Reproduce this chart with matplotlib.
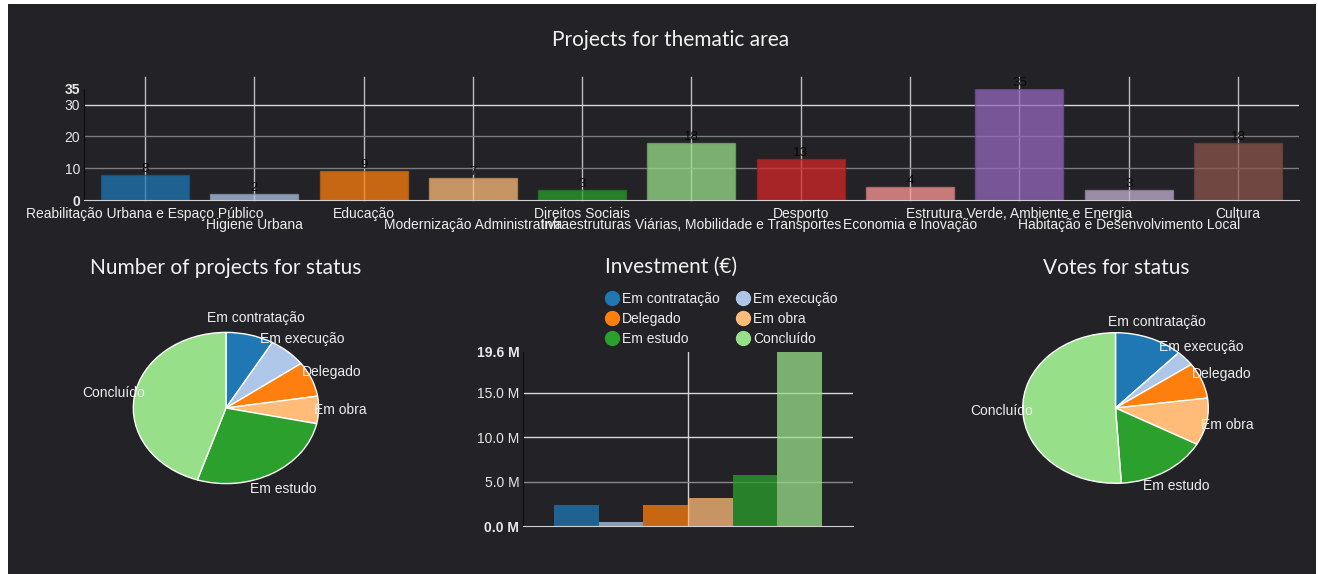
import matplotlib
matplotlib.use('Agg')
import matplotlib.pyplot as plt
from matplotlib.patches import Rectangle
from matplotlib.lines import Line2D
from matplotlib.colors import to_rgb

W, H = 1318, 574
BG = '#222227'

# --- data ---
thematic_areas = ['Reabilitação Urbana e Espaço Público', 'Higiene Urbana', 'Educação',
                  'Modernização Administrativa', 'Direitos Sociais',
                  'Infraestruturas Viárias, Mobilidade e Transportes', 'Desporto',
                  'Economia e Inovação', 'Estrutura Verde, Ambiente e Energia',
                  'Habitação e Desenvolvimento Local', 'Cultura']
projects_per_area = [8, 2, 9, 7, 3, 18, 13, 4, 35, 3, 18]
area_ticks = [0, 10, 20, 30, 35]

statuses = ['Em contratação', 'Em execução', 'Delegado', 'Em obra', 'Em estudo', 'Concluído']
projects_per_status = [10, 8, 9, 7, 32, 54]
investment_m = [2.32, 0.45, 2.32, 3.15, 5.77, 19.6]
investment_ticks = [0, 5, 10, 15, 19.6]
votes_per_status = [119, 33, 77, 101, 160, 510]

palette = ['#1f77b4', '#aec7e8', '#ff7f0e', '#ffbb78', '#2ca02c', '#98df8a',
           '#d62728', '#ff9896', '#9467bd', '#c5b0d5', '#8c564b']

LABEL_FONT = ['Liberation Sans', 'DejaVu Sans']
TITLE_FONT = ['Lato', 'DejaVu Sans']
TITLE_SIZE = 15


def box(l, t, r, b):
    # pixel box (from top-left) -> figure fraction
    return [l / W, 1 - b / H, (r - l) / W, (b - t) / H]


def darker(c, f=0.75):
    r, g, b = to_rgb(c)
    return (r * f, g * f, b * f)


def style_yticks(ax, ticks, labels):
    ax.set_yticks(ticks)
    ax.set_yticklabels(labels, family=LABEL_FONT, fontsize=10, color='#e8e8e8')
    for i, t in enumerate(ax.get_yticklabels()):
        if i == 0 or i == len(ticks) - 1:
            t.set_fontweight('bold')
    ax.tick_params(axis='y', length=0, pad=3)
    ax.tick_params(axis='x', length=0)


def pie_chart(ax, values, title, cx):
    wedges, texts = ax.pie(values, colors=palette[:6], startangle=90, counterclock=False,
                           labels=statuses, labeldistance=1.23,
                           wedgeprops=dict(edgecolor='white', linewidth=1))
    for t in texts:
        t.set_ha('center')
        t.set_va('center')
        t.set_color('#eeeeee')
        t.set_family(LABEL_FONT)
        t.set_fontsize(10)
    ax.set_aspect('auto')
    ax.set_xlim(-1.6, 1.6)
    ax.set_ylim(-1.6, 1.6)
    ax.axis('off')
    fig.text(cx / W, 1 - 268 / H, title, ha='center', va='center', color='#f2f2f2',
             fontsize=TITLE_SIZE, family=TITLE_FONT)


fig = plt.figure(figsize=(W / 100, H / 100), dpi=100, facecolor='white')
fig.patches.append(Rectangle((8 / W, 0), 1308 / W, 1 - 4 / H, transform=fig.transFigure,
                             facecolor=BG, edgecolor='none', zorder=-10))

# --- projects per thematic area ---
ax = fig.add_axes(box(84.2, 88.8, 1299, 200))
ax.set_facecolor('none')
x = list(range(len(thematic_areas)))
for xi in x:
    ax.plot([xi, xi], [0, 38.6], color='#bdbdbd', lw=1, clip_on=False, zorder=1)
for yv, c in zip([10, 20, 30], ['#7c7c7c', '#7c7c7c', '#d8d8d8']):
    ax.axhline(yv, color=c, lw=1, zorder=1)
bars = ax.bar(x, projects_per_area, width=0.805, color=palette, alpha=0.75,
              edgecolor=[darker(c) for c in palette], linewidth=1, zorder=2)
for xi, v in zip(x, projects_per_area):
    ax.annotate(str(v), (xi, v), xytext=(0, 0), textcoords='offset pixels',
                ha='center', va='bottom', color='#0a0a0a', fontsize=9.5, family=LABEL_FONT,
                zorder=3)
for i, name in enumerate(thematic_areas):
    off = -14 if i % 2 == 0 else -25.5
    ax.annotate(name, (i, 0), xycoords=('data', 'axes fraction'), xytext=(0, off),
                textcoords='offset pixels', ha='center', va='center',
                color='#eeeeee', fontsize=10, family=LABEL_FONT, annotation_clip=False)
ax.set_xlim(-0.556, 10.558)
ax.set_ylim(0, 35)
ax.set_xticks([])
style_yticks(ax, area_ticks, [str(t) for t in area_ticks])
for s in ['top', 'right']:
    ax.spines[s].set_visible(False)
ax.spines['bottom'].set_color('#d0d0d0')
ax.spines['left'].set_color('#0c0c0c')
fig.text(671 / W, 1 - 40 / H, 'Projects for thematic area', ha='center', va='center',
         color='#f2f2f2', fontsize=TITLE_SIZE, family=TITLE_FONT)

# --- pies ---
ax_p1 = fig.add_axes(box(226 - 1.6 * 92.7, 408 - 1.6 * 75.6, 226 + 1.6 * 92.7, 408 + 1.6 * 75.6))
pie_chart(ax_p1, projects_per_status, 'Number of projects for status', 226)
ax_p2 = fig.add_axes(box(1115.5 - 1.6 * 92.8, 408 - 1.6 * 75.3, 1115.5 + 1.6 * 92.8, 408 + 1.6 * 75.3))
pie_chart(ax_p2, votes_per_status, 'Votes for status', 1116)

# --- investment ---
ax_i = fig.add_axes(box(523.3, 351.7, 852.7, 526))
ax_i.set_facecolor('none')
ax_i.plot([0, 0], [0, 19.6], color='#d0d0d0', lw=1, zorder=1)
for yv, c in zip([5, 10, 15], ['#8a8a8a', '#d8d8d8', '#d8d8d8']):
    ax_i.axhline(yv, color=c, lw=1, zorder=1)
bw = 0.1357
for i, (name, v) in enumerate(zip(statuses, investment_m)):
    ax_i.bar((i - 2.5) * bw, v, width=bw, color=palette[i], alpha=0.75, zorder=2)
ax_i.set_xlim(-0.5, 0.5)
ax_i.set_ylim(0, 19.6)
ax_i.set_xticks([])
style_yticks(ax_i, investment_ticks, ['%.1f M' % t for t in investment_ticks])
for s in ['top', 'right']:
    ax_i.spines[s].set_visible(False)
ax_i.spines['bottom'].set_color('#d0d0d0')
ax_i.spines['left'].set_color('#0c0c0c')
handles = [Line2D([], [], marker='o', ls='', markersize=10, color=c) for c in palette[:6]]
order = [0, 2, 4, 1, 3, 5]
leg = ax_i.legend([handles[k] for k in order], [statuses[k] for k in order], ncol=2,
                  loc='upper left', bbox_to_anchor=(605 / W, 1 - 292 / H),
                  bbox_transform=fig.transFigure, frameon=False, borderpad=0,
                  borderaxespad=0, handlelength=1.0, handletextpad=0.2,
                  columnspacing=1.2, labelspacing=0.43,
                  prop={'family': LABEL_FONT, 'size': 10})
for t in leg.get_texts():
    t.set_color('#eeeeee')
fig.text(671 / W, 1 - 267 / H, 'Investment (€)', ha='center', va='center',
         color='#f2f2f2', fontsize=TITLE_SIZE, family=TITLE_FONT)

fig.savefig('out.png', dpi=100, facecolor=fig.get_facecolor())
